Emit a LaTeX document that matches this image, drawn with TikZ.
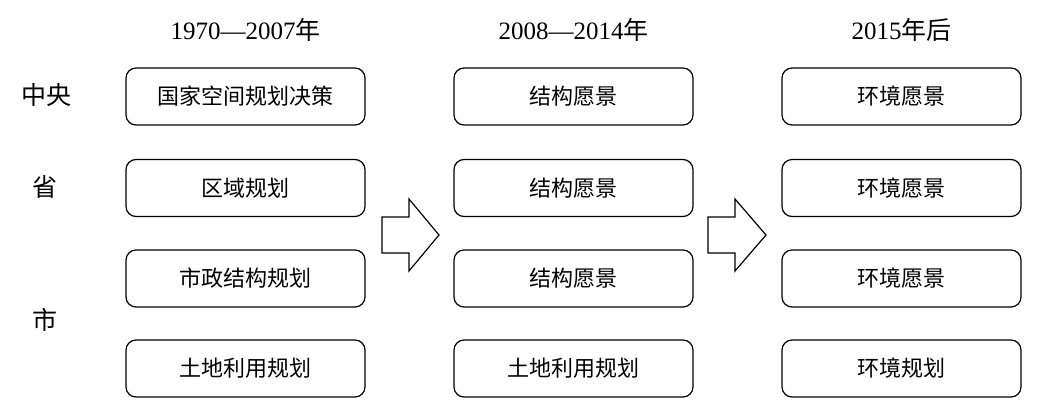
\documentclass[tikz,border=0pt]{standalone}
\usepackage{fontspec}
\setmainfont{Liberation Serif}
\newfontfamily\cjk{Noto Sans CJK SC}
\begin{document}
\begin{tikzpicture}[x=1pt,y=-1pt,
  box/.style={draw, rounded corners=10pt, line width=1.2pt, minimum width=239pt, minimum height=57pt, inner sep=0pt, font=\cjk\fontsize{22}{26}\selectfont},
  head/.style={font=\fontsize{25}{30}\selectfont, inner sep=0pt},
  side/.style={font=\cjk\fontsize{25}{30}\selectfont, inner sep=0pt},
  bigarrow/.style={draw, line width=1.2pt, line join=miter, fill=white}]
\useasboundingbox (0,0) rectangle (1037,416);
% headers
\node[head] (h1) at (245.5,30) {1970—2007{\cjk 年}};
\node[head] (h2) at (573.5,30) {2008—2014{\cjk 年}};
\node[head] (h3) at (901.5,30) {2015{\cjk 年后}};
% side labels
\node[side] (l1) at (46,95) {中央};
\node[side] (l2) at (45,187) {省};
\node[side] (l3) at (45,320) {市};
% column 1
\node[box] (a1) at (245.5,96.5) {国家空间规划决策};
\node[box] (a2) at (245.5,188) {区域规划};
\node[box] (a3) at (245.5,278.5) {市政结构规划};
\node[box] (a4) at (245.5,368.5) {土地利用规划};
% column 2
\node[box] (b1) at (573.5,96.5) {结构愿景};
\node[box] (b2) at (573.5,188) {结构愿景};
\node[box] (b3) at (573.5,278.5) {结构愿景};
\node[box] (b4) at (573.5,368.5) {土地利用规划};
% column 3
\node[box] (c1) at (901.5,96.5) {环境愿景};
\node[box] (c2) at (901.5,188) {环境愿景};
\node[box] (c3) at (901.5,278.5) {环境愿景};
\node[box] (c4) at (901.5,368.5) {环境规划};
% block arrows
\draw[bigarrow] (382,217) -- (409,217) -- (409,199) -- (439,235) -- (409,271) -- (409,253) -- (382,253) -- cycle;
\draw[bigarrow] (708,217) -- (735,217) -- (735,199) -- (766,235) -- (735,271) -- (735,253) -- (708,253) -- cycle;
\end{tikzpicture}
\end{document}
